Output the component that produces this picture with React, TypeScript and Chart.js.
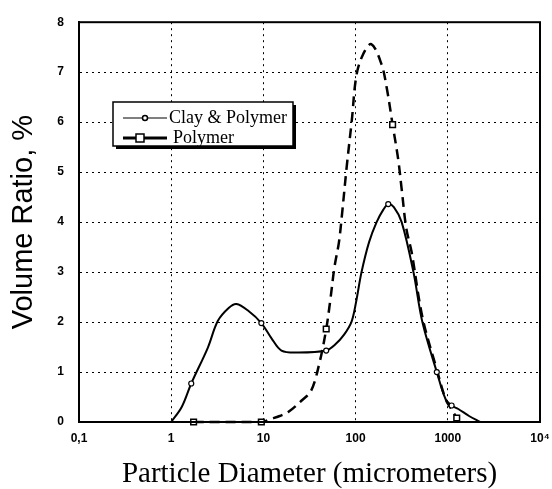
import React, { useEffect, useRef } from "react";
import { Chart, registerables } from "chart.js";

Chart.register(...registerables);

// ---- data ----
const seriesNames = ["Clay & Polymer", "Polymer"];

const clayX = [1.0, 1.3, 1.65, 2.5, 3.2, 4.2, 5.1, 6.9, 9.5, 12.2, 15.7, 24, 48, 60, 75, 90, 100, 116, 140, 169, 200, 226, 260, 316, 424, 530, 760, 950, 1100, 1300, 1700, 2240];
const clayY = [0, 0.3, 0.77, 1.49, 2.02, 2.28, 2.36, 2.22, 1.98, 1.68, 1.43, 1.39, 1.43, 1.55, 1.75, 2.0, 2.35, 3.0, 3.6, 4.0, 4.25, 4.36, 4.3, 4.0, 3.0, 2.0, 1.0, 0.45, 0.33, 0.26, 0.12, 0];
const clayMarkers = [1.65, 9.5, 48, 226, 760, 1100];

const polyX = [1.75, 9.5, 12, 15, 18.6, 26, 33, 41, 48, 53, 59, 66, 71, 80, 91, 102, 120, 148, 190, 217, 252, 290, 316, 355, 405, 530, 760, 950, 1100, 1250];
const polyY = [0, 0, 0.06, 0.12, 0.2, 0.43, 0.63, 1.22, 1.86, 2.42, 3.1, 3.6, 4.13, 5.1, 6.04, 6.93, 7.35, 7.56, 7.17, 6.7, 5.95, 5.25, 4.66, 3.87, 3.4, 2.1, 1.05, 0.45, 0.25, 0.08];
const polyMarkers = [1.75, 9.5, 48, 252, 1250];

const xTickValues = [0.1, 1, 10, 100, 1000, 10000];
const xTickLabels = ["0,1", "1", "10", "100", "1000", "10\u2074"];
const yMin = 0;
const yMax = 8;

const xTitle = "Particle Diameter (micrometers)";
const yTitle = "Volume Ratio, %";

const framePlugin = {
  id: "frame",
  afterDatasetsDraw(chart: any) {
    const { ctx, chartArea: a } = chart;
    ctx.save();
    ctx.strokeStyle = "#000";
    ctx.lineWidth = 2;
    ctx.strokeRect(a.left, a.top, a.right - a.left, a.bottom - a.top);
    ctx.restore();
  },
};

const legendPlugin = {
  id: "boxLegend",
  afterDraw(chart: any) {
    const { ctx } = chart;
    const x0 = 113, y0 = 102, w = 180, h = 44;
    ctx.save();
    // shadow
    ctx.fillStyle = "#000";
    ctx.fillRect(x0 + 3, y0 + 3, w, h);
    ctx.fillStyle = "#fff";
    ctx.fillRect(x0, y0, w, h);
    ctx.strokeStyle = "#000";
    ctx.lineWidth = 1.5;
    ctx.strokeRect(x0, y0, w, h);
    const rows = [y0 + 16, y0 + 36];
    chart.data.datasets.forEach((ds: any, i: number) => {
      const y = rows[i];
      ctx.strokeStyle = "#000";
      ctx.lineWidth = i === 0 ? 1 : 3;
      ctx.setLineDash([]);
      ctx.beginPath();
      ctx.moveTo(123, y);
      ctx.lineTo(167, y);
      ctx.stroke();
      ctx.fillStyle = "#fff";
      ctx.lineWidth = 1.5;
      if (i === 0) {
        ctx.beginPath();
        ctx.arc(145, y, 2.5, 0, Math.PI * 2);
        ctx.fill();
        ctx.stroke();
      } else {
        ctx.fillRect(136, y - 4, 8, 8);
        ctx.strokeRect(136, y - 4, 8, 8);
      }
      ctx.fillStyle = "#000";
      ctx.font = "18px 'Liberation Serif', serif";
      ctx.textBaseline = "middle";
      ctx.textAlign = "left";
      ctx.fillText(ds.label, i === 0 ? 169 : 173, y);
    });
    ctx.restore();
  },
};

export default function App() {
  const ref = useRef<HTMLCanvasElement>(null);
  useEffect(() => {
    if (!ref.current) return;
    const chart = new Chart(ref.current, {
      type: "line",
      data: {
        datasets: [
          {
            label: seriesNames[0],
            data: clayX.map((x, i) => ({ x, y: clayY[i] })),
            borderColor: "#000",
            borderWidth: 2,
            backgroundColor: "#fff",
            pointBorderColor: "#000",
            pointBackgroundColor: "#fff",
            pointBorderWidth: 1.2,
            pointRadius: (c: any) => (clayMarkers.includes(clayX[c.dataIndex]) ? 2.5 : 0),
            pointStyle: "circle",
            tension: 0.35,
            clip: false,
          },
          {
            label: seriesNames[1],
            data: polyX.map((x, i) => ({ x, y: polyY[i] })),
            borderColor: "#000",
            borderWidth: 2.5,
            borderDash: [10, 6],
            backgroundColor: "#fff",
            pointBorderColor: "#000",
            pointBackgroundColor: "#fff",
            pointBorderWidth: 1.5,
            pointRadius: (c: any) => (polyMarkers.includes(polyX[c.dataIndex]) ? 4 : 0),
            pointStyle: "rect",
            tension: 0.35,
            clip: false,
          },
        ],
      },
      options: {
        animation: false,
        responsive: false,
        maintainAspectRatio: false,
        layout: { padding: { left: 0, right: 12, top: 18, bottom: 0 } },
        plugins: { legend: { display: false }, tooltip: { enabled: false } },
        scales: {
          x: {
            type: "logarithmic",
            min: 0.1,
            max: 10000,
            afterBuildTicks: (s: any) => {
              s.ticks = xTickValues.map((v) => ({ value: v }));
            },
            afterFit: (s: any) => {
              s.height = 67;
              s.paddingLeft = 0;
              s.paddingRight = 0;
            },
            ticks: {
              autoSkip: false,
              maxRotation: 0,
              color: "#000",
              padding: 9,
              font: { family: "'Liberation Sans', Arial", size: 12, weight: "bold" },
              callback: (v: any) => {
                const i = xTickValues.indexOf(Number(v));
                return i >= 0 ? xTickLabels[i] : "";
              },
            },
            grid: { color: "#000", lineWidth: 1, drawTicks: false },
            border: { display: true, color: "#000", width: 2, dash: [2, 4] },
            title: {
              display: true,
              text: xTitle,
              color: "#000",
              font: { family: "'Liberation Serif', serif", size: 29, lineHeight: 1 },
              padding: 0,
            },
          },
          y: {
            min: yMin,
            max: yMax,
            afterFit: (s: any) => {
              s.width = 79;
            },
            ticks: {
              stepSize: 1,
              color: "#000",
              padding: 15,
              font: { family: "'Liberation Sans', Arial", size: 12, weight: "bold" },
            },
            grid: { color: "#000", lineWidth: 1, drawTicks: false },
            border: { display: true, color: "#000", width: 2, dash: [2, 4] },
            title: {
              display: true,
              text: yTitle,
              color: "#000",
              font: { family: "'Liberation Sans', Arial", size: 29, lineHeight: 1 },
              padding: { top: 9, bottom: 0 },
            },
          },
        },
      },
      plugins: [framePlugin, legendPlugin],
    } as any);
    return () => chart.destroy();
  }, []);
  return (
    <div style={{ position: "fixed", left: 0, top: 0, width: 552, height: 489, background: "#fff" }}>
      <canvas ref={ref} width={552} height={489} style={{ display: "block" }} />
    </div>
  );
}
